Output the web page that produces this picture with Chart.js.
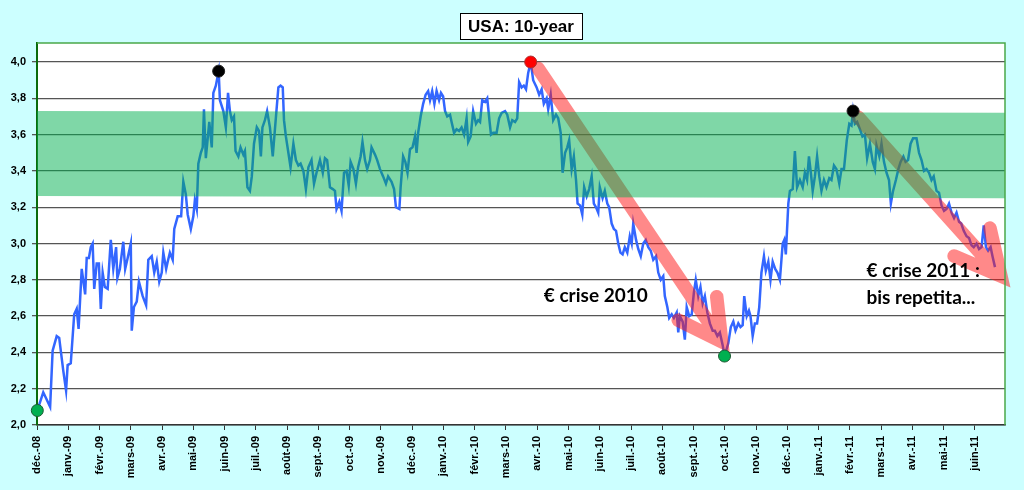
<!DOCTYPE html>
<html>
<head>
<meta charset="utf-8">
<script src="https://cdn.jsdelivr.net/npm/chart.js@4.4.1/dist/chart.umd.min.js"></script>
<style>
  html, body { margin: 0; padding: 0; background: #ccffff; }
  #wrap { width: 1024px; height: 490px; }
</style>
</head>
<body>
<div id="wrap"><canvas id="c" width="1024" height="490"></canvas></div>
<script>
// ---- DATA ----
const titleText = 'USA: 10-year';
const monthLabels = ['déc.-08','janv.-09','févr.-09','mars-09','avr.-09','mai-09','juin-09','juil.-09','août-09','sept.-09','oct.-09','nov.-09','déc.-09','janv.-10','févr.-10','mars-10','avr.-10','mai-10','juin-10','juil.-10','août-10','sept.-10','oct.-10','nov.-10','déc.-10','janv.-11','févr.-11','mars-11','avr.-11','mai-11','juin-11'];
// time in months since 1 Dec 2008
const monthPos = [
0.01,0.20,0.42,0.50,0.63,0.71,0.84,0.93,0.98,1.08,
1.19,1.27,1.33,1.43,1.54,1.59,1.66,1.72,1.78,1.83,
1.91,1.98,2.04,2.10,2.17,2.26,2.36,2.44,2.53,2.57,
2.65,2.76,2.82,2.90,3.00,3.03,3.10,3.19,3.26,3.38,
3.49,3.56,3.67,3.75,3.83,3.91,3.99,4.04,4.13,4.18,
4.25,4.34,4.39,4.50,4.61,4.68,4.76,4.82,4.92,5.00,
5.05,5.11,5.16,5.24,5.30,5.34,5.40,5.51,5.59,5.64,
5.72,5.81,5.85,5.96,6.04,6.11,6.17,6.23,6.30,6.35,
6.44,6.51,6.60,6.65,6.73,6.81,6.87,6.94,7.03,7.10,
7.16,7.21,7.29,7.36,7.45,7.54,7.61,7.72,7.79,7.86,
7.90,7.96,8.04,8.11,8.20,8.28,8.36,8.43,8.52,8.60,
8.68,8.78,8.86,8.94,9.05,9.14,9.21,9.28,9.37,9.46,
9.53,9.58,9.67,9.74,9.82,9.90,9.97,10.03,10.12,10.20,
10.27,10.35,10.41,10.49,10.56,10.65,10.70,10.81,10.88,10.97,
11.07,11.16,11.23,11.34,11.42,11.48,11.59,11.63,11.71,11.78,
11.85,11.93,12.01,12.09,12.14,12.19,12.27,12.35,12.43,12.51,
12.57,12.64,12.71,12.78,12.86,12.92,12.99,13.05,13.12,13.21,
13.26,13.34,13.42,13.50,13.58,13.66,13.74,13.79,13.87,13.95,
14.04,14.11,14.17,14.24,14.33,14.40,14.47,14.52,14.59,14.70,
14.78,14.86,14.97,15.04,15.13,15.20,15.29,15.36,15.42,15.50,
15.57,15.64,15.71,15.79,15.87,15.98,16.06,16.14,16.21,16.30,
16.35,16.43,16.51,16.60,16.67,16.75,16.81,16.89,16.96,17.02,
17.10,17.17,17.24,17.29,17.37,17.44,17.50,17.58,17.66,17.74,
17.81,17.88,17.95,18.00,18.09,18.16,18.24,18.30,18.38,18.45,
18.52,18.59,18.66,18.73,18.80,18.88,18.96,19.02,19.07,19.16,
19.23,19.31,19.39,19.47,19.55,19.63,19.71,19.80,19.87,19.95,
20.03,20.08,20.16,20.22,20.30,20.37,20.46,20.51,20.56,20.65,
20.72,20.78,20.86,20.94,21.01,21.07,21.15,21.22,21.29,21.36,
21.44,21.52,21.61,21.68,21.76,21.84,21.93,21.99,22.11,22.19,
22.27,22.34,22.43,22.50,22.57,22.62,22.70,22.77,22.82,22.89,
22.96,23.03,23.10,23.17,23.25,23.31,23.39,23.46,23.53,23.61,23.68,23.76,
23.85,23.90,23.95,24.03,24.08,24.17,24.24,24.31,24.40,24.49,
24.56,24.63,24.69,24.75,24.81,24.88,24.95,25.02,25.09,25.17,
25.25,25.34,25.41,25.49,25.57,25.66,25.73,25.81,25.90,25.98,
26.05,26.10,26.16,26.23,26.32,26.40,26.48,26.55,26.64,26.73,
26.80,26.85,26.94,27.01,27.09,27.17,27.25,27.31,27.38,27.47,
27.55,27.62,27.71,27.78,27.86,27.94,28.02,28.13,28.21,28.29,
28.37,28.45,28.53,28.61,28.68,28.77,28.85,28.93,29.01,29.09,
29.17,29.25,29.33,29.41,29.49,29.56,29.64,29.73,29.81,29.89,
29.96,30.05,30.13,30.21,30.28,30.35,30.42,30.50,30.56,30.64
];
const yield10y = [
2.08,2.18,2.10,2.41,2.49,2.48,2.30,2.19,2.33,2.34,
2.61,2.64,2.53,2.86,2.72,2.92,2.92,2.98,3.00,2.75,
2.89,2.89,2.64,2.84,2.76,2.75,3.02,2.86,2.98,2.81,
2.86,3.01,2.86,2.92,3.00,2.52,2.65,2.68,2.79,2.71,
2.66,2.91,2.93,2.84,2.90,2.79,2.84,2.95,2.86,2.90,
2.95,2.91,3.08,3.15,3.15,3.34,3.27,3.16,3.08,3.15,
3.24,3.19,3.44,3.50,3.53,3.74,3.47,3.67,3.53,3.83,
3.87,3.95,3.79,3.73,3.64,3.83,3.73,3.68,3.70,3.51,
3.48,3.53,3.49,3.51,3.31,3.29,3.37,3.55,3.64,3.62,
3.48,3.64,3.68,3.73,3.64,3.48,3.63,3.86,3.87,3.86,
3.68,3.59,3.50,3.42,3.55,3.46,3.43,3.44,3.40,3.30,
3.42,3.46,3.33,3.39,3.46,3.39,3.47,3.46,3.31,3.30,
3.29,3.19,3.23,3.18,3.39,3.40,3.32,3.45,3.41,3.33,
3.42,3.48,3.56,3.46,3.41,3.46,3.53,3.49,3.46,3.41,
3.37,3.33,3.37,3.34,3.30,3.20,3.19,3.31,3.48,3.45,
3.39,3.52,3.53,3.59,3.50,3.61,3.70,3.77,3.82,3.84,
3.79,3.84,3.77,3.84,3.79,3.83,3.81,3.73,3.70,3.71,
3.67,3.61,3.63,3.62,3.64,3.60,3.69,3.56,3.59,3.73,
3.66,3.68,3.67,3.79,3.78,3.80,3.68,3.60,3.61,3.61,
3.69,3.72,3.73,3.71,3.64,3.68,3.67,3.69,3.89,3.86,
3.87,3.85,3.94,4.00,3.90,3.86,3.82,3.85,3.77,3.80,
3.74,3.82,3.68,3.71,3.69,3.61,3.39,3.50,3.53,3.57,
3.41,3.48,3.35,3.22,3.21,3.16,3.31,3.26,3.30,3.37,
3.22,3.20,3.17,3.31,3.25,3.29,3.22,3.20,3.11,3.08,
3.07,3.00,2.95,2.94,2.98,2.95,3.04,3.00,3.11,3.02,
2.97,2.93,3.00,3.02,2.98,2.96,2.91,2.93,2.84,2.80,
2.82,2.71,2.65,2.59,2.61,2.59,2.62,2.51,2.60,2.57,
2.47,2.65,2.60,2.61,2.73,2.80,2.71,2.76,2.67,2.71,
2.62,2.56,2.52,2.52,2.49,2.51,2.44,2.38,2.45,2.54,
2.57,2.52,2.56,2.54,2.55,2.71,2.60,2.63,2.60,2.49,
2.56,2.56,2.65,2.84,2.93,2.85,2.90,2.80,2.90,2.86,2.84,2.80,
3.00,3.02,2.94,3.22,3.29,3.30,3.51,3.31,3.35,3.31,
3.39,3.35,3.48,3.39,3.29,3.37,3.48,3.37,3.29,3.35,
3.31,3.36,3.35,3.43,3.41,3.33,3.41,3.41,3.57,3.66,
3.65,3.73,3.66,3.67,3.63,3.59,3.60,3.47,3.55,3.45,
3.41,3.54,3.48,3.55,3.45,3.39,3.35,3.22,3.29,3.35,
3.41,3.45,3.48,3.45,3.46,3.55,3.58,3.58,3.50,3.46,
3.40,3.41,3.39,3.35,3.37,3.29,3.28,3.21,3.18,3.19,
3.22,3.17,3.14,3.17,3.12,3.11,3.07,3.04,3.03,2.99,
2.98,3.00,2.97,2.98,3.10,2.98,2.96,2.98,2.93,2.87
];
// highlighted extremes
const markerPos = [0.01, 5.81, 15.79, 21.99, 26.10];
const markerVal = [2.08, 3.95, 4.00, 2.38, 3.73];
// range band (start / end of period)
const bandPos = [0, 30.96];
const bandHigh = [3.73, 3.72];
const bandLow = [3.262, 3.25];
// trend arrows: [start, tip, head end A, head end B]
const arrow2010Pos = [16.03, 21.90, 21.74, 20.51];
const arrow2010Val = [3.965, 2.459, 2.707, 2.578];
const arrow2011Pos = [26.26, 30.83, 30.48, 29.33];
const arrow2011Val = [3.697, 2.821, 3.085, 2.931];
// annotation texts
const noteTexts = ['€ crise 2010', '€ crise 2011 :', 'bis repetita...'];
const notePos = [16.21, 26.53, 26.53];
const noteVal = [2.678, 2.815, 2.667];

// ---- BUILD ----
const n = Math.min(monthPos.length, yield10y.length);
const lineData = [];
for (let i = 0; i < n; i++) lineData.push({x: monthPos[i], y: yield10y[i]});
const markerData = markerPos.map((x, i) => ({x, y: markerVal[i]}));
const bandHighData = bandPos.map((x, i) => ({x, y: bandHigh[i]}));
const bandLowData = bandPos.map((x, i) => ({x, y: bandLow[i]}));

const FONT = '"Liberation Sans", Arial, sans-serif';

const plotBgPlugin = {
  id: 'plotBg',
  beforeDraw(chart) {
    const {ctx, chartArea: a} = chart;
    ctx.save();
    ctx.fillStyle = '#ccffff';
    ctx.fillRect(0, 0, chart.width, chart.height);
    ctx.fillStyle = '#ffffff';
    ctx.fillRect(a.left, a.top, a.right - a.left, a.bottom - a.top);
    ctx.restore();
  }
};

const arrowPlugin = {
  id: 'arrows',
  afterDatasetDraw(chart, args) {
    if (args.index !== 3) return;
    const xs = chart.scales.x, ys = chart.scales.y, ctx = chart.ctx;
    const draw = (P, V) => {
      const p = P.map((v, i) => [xs.getPixelForValue(v), ys.getPixelForValue(V[i])]);
      ctx.save();
      ctx.strokeStyle = 'rgba(255,20,20,0.5)';
      ctx.lineWidth = 13.5;
      ctx.lineCap = 'round';
      ctx.lineJoin = 'miter';
      ctx.beginPath();
      ctx.moveTo(p[0][0], p[0][1]);
      ctx.lineTo(p[1][0], p[1][1]);
      ctx.moveTo(p[2][0], p[2][1]);
      ctx.lineTo(p[1][0], p[1][1]);
      ctx.lineTo(p[3][0], p[3][1]);
      ctx.stroke();
      ctx.restore();
    };
    draw(arrow2010Pos, arrow2010Val);
    draw(arrow2011Pos, arrow2011Val);
  }
};

const decorPlugin = {
  id: 'decor',
  afterDraw(chart) {
    const {ctx, chartArea: a} = chart;
    const xs = chart.scales.x, ys = chart.scales.y;
    ctx.save();
    // frame of plot area
    ctx.strokeStyle = '#4aa84a';
    ctx.lineWidth = 1.5;
    ctx.beginPath();
    ctx.moveTo(a.left, a.top);
    ctx.lineTo(a.right, a.top);
    ctx.lineTo(a.right, a.bottom);
    ctx.stroke();
    // annotations
    ctx.fillStyle = '#000000';
    ctx.font = 'bold 19px Lato, "Open Sans", sans-serif';
    ctx.textAlign = 'left';
    ctx.textBaseline = 'alphabetic';
    noteTexts.forEach((t, i) => {
      ctx.fillText(t, xs.getPixelForValue(notePos[i]), ys.getPixelForValue(noteVal[i]));
    });
    // title box
    ctx.font = 'bold 17px ' + FONT;
    const w = ctx.measureText(titleText).width;
    const cx = (a.left + a.right) / 2;
    const bw = w + 16, bh = 26, by = 13;
    ctx.fillStyle = '#ffffff';
    ctx.fillRect(cx - bw / 2, by, bw, bh);
    ctx.strokeStyle = '#000000';
    ctx.lineWidth = 1;
    ctx.strokeRect(Math.round(cx - bw / 2) + 0.5, by + 0.5, Math.round(bw), bh);
    ctx.fillStyle = '#000000';
    ctx.textAlign = 'center';
    ctx.textBaseline = 'middle';
    ctx.fillText(titleText, cx, by + bh / 2 + 1);
    ctx.restore();
  }
};

new Chart(document.getElementById('c'), {
  type: 'line',
  data: {
    datasets: [
      {
        label: 'extremes', data: markerData, showLine: false, order: 0, clip: false,
        pointRadius: 6, pointHoverRadius: 6, pointBorderWidth: 1,
        pointBackgroundColor: ['#00b050', '#000000', '#ff0000', '#00b050', '#000000'],
        pointBorderColor: ['#1d5a33', '#222222', '#b03030', '#1d5a33', '#222222']
      },
      {
        label: 'band high', data: bandHighData, order: 1, borderWidth: 0, pointRadius: 0,
        fill: '+1', backgroundColor: 'rgba(0,176,80,0.5)', borderColor: 'rgba(0,0,0,0)'
      },
      {
        label: 'band low', data: bandLowData, order: 1, borderWidth: 0, pointRadius: 0,
        fill: false, borderColor: 'rgba(0,0,0,0)'
      },
      {
        label: 'USA 10-year', data: lineData, order: 3, borderColor: '#3366ff',
        borderWidth: 2.5, pointRadius: 0, tension: 0, fill: false
      }
    ]
  },
  options: {
    responsive: false,
    animation: false,
    events: [],
    layout: { padding: { top: 43, right: 19, bottom: 0, left: 0 } },
    plugins: { legend: { display: false }, title: { display: false }, tooltip: { enabled: false } },
    scales: {
      x: {
        type: 'linear', min: 0, max: 30.96,
        afterFit(s) { s.height = 65; },
        ticks: {
          stepSize: 1, includeBounds: false, autoSkip: false,
          minRotation: 90, maxRotation: 90, padding: 6,
          color: '#000', font: { family: FONT, size: 11, weight: 'bold' },
          callback: (v) => monthLabels[Math.round(v)] || ''
        },
        grid: { drawOnChartArea: false, drawTicks: true, tickLength: 5, color: '#333333', lineWidth: 1 },
        border: { display: true, color: '#333333', width: 1.5 }
      },
      y: {
        type: 'linear', min: 2, max: 4.105,
        afterFit(s) { s.width = 37; },
        ticks: {
          stepSize: 0.2, includeBounds: false, padding: 6,
          color: '#000', font: { family: FONT, size: 11, weight: 'bold' },
          callback: (v) => v.toFixed(1).replace('.', ',')
        },
        grid: { color: '#555555', lineWidth: 1.3, tickLength: 5 },
        border: { display: true, color: '#0b6b0b', width: 2 }
      }
    }
  },
  plugins: [plotBgPlugin, arrowPlugin, decorPlugin]
});
</script>
</body>
</html>
